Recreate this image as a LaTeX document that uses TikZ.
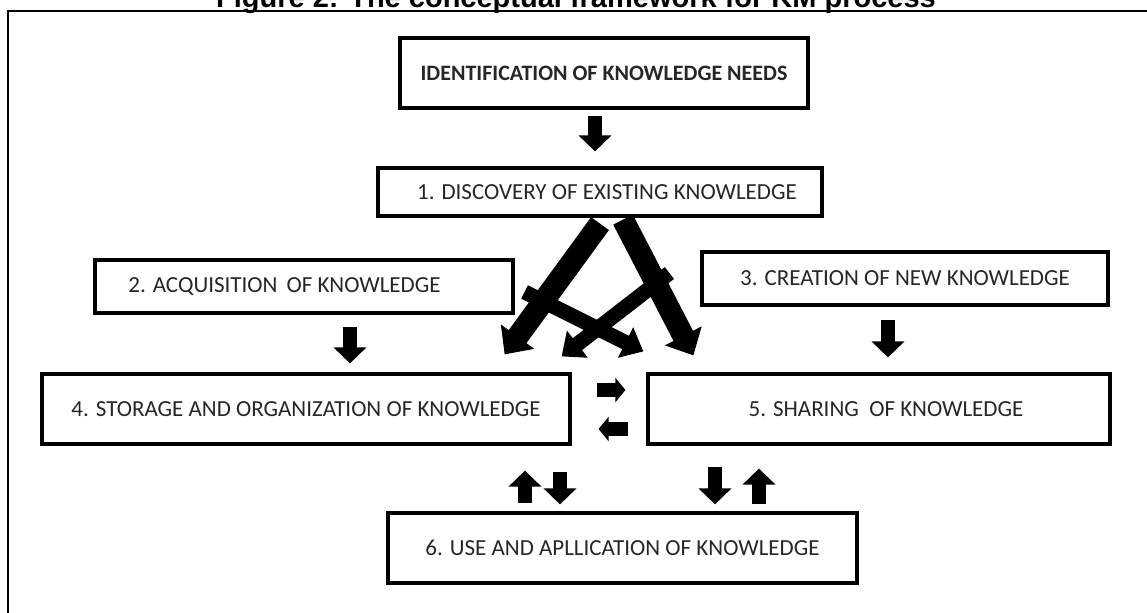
\documentclass[tikz,border=0pt]{standalone}
\usepackage{fontspec}
\setmainfont{Carlito}
\newfontfamily\titlefont{Liberation Sans}
\usetikzlibrary{arrows.meta}

\begin{document}
\begin{tikzpicture}[x=0.5pt,y=-0.5pt,
  km box/.style={draw,line width=1.6pt,inner sep=0pt,text=black!85,font=\fontsize{11.5pt}{14pt}\selectfont},
  fat arrow/.style={line width=7pt,-{Triangle[length=8pt,width=16pt]}},
  big arrow/.style={line width=11pt,-{Triangle[length=11pt,width=20pt]}},
  mid arrow/.style={line width=7.5pt,-{Triangle[length=10pt,width=16.5pt]}},
  small arrow/.style={line width=7pt,-{Triangle[length=5pt,width=12pt]}}]

  \useasboundingbox (0,0) rectangle (1147,612);
  \draw[line width=1pt] (8,640) |- (1170,11);
  \node[anchor=base,inner sep=0pt,font=\titlefont\bfseries\fontsize{14.5pt}{17pt}\selectfont] (title) at (576,7) {Figure 2: The conceptual framework for KM process};

  \node[km box,minimum width=204pt,minimum height=35pt,font=\fontsize{11pt}{13pt}\selectfont\bfseries] (need) at (604,73) {IDENTIFICATION OF KNOWLEDGE NEEDS};
  \node[km box,minimum width=222pt,minimum height=24pt] (disc) at (600,192) {\hspace{7pt}1. DISCOVERY OF EXISTING KNOWLEDGE};
  \node[km box,minimum width=209pt,minimum height=26.5pt] (acq) at (304,286.5) {2. ACQUISITION\,\ OF KNOWLEDGE\hspace{19.5pt}\mbox{}};
  \node[km box,minimum width=203pt,minimum height=26.5pt] (crea) at (905,278.5) {3. CREATION OF NEW KNOWLEDGE};
  \node[km box,minimum width=264pt,minimum height=35pt] (stor) at (306,409) {4. STORAGE AND ORGANIZATION OF KNOWLEDGE};
  \node[km box,minimum width=231pt,minimum height=35pt] (share) at (879,409) {\hspace{7pt}5. SHARING\ \ OF KNOWLEDGE};
  \node[km box,minimum width=234.5pt,minimum height=35pt] (use) at (622.5,548) {6. USE AND APLLICATION OF KNOWLEDGE};

  % straight arrows
  \draw[fat arrow] ([shift={(-9,6)}]need.south) -- ([shift={(-5,-15)}]disc.north);
  \draw[fat arrow] ([shift={(46,12)}]acq.south) -- ([shift={(44,-9)}]stor.north);
  \draw[fat arrow] ([shift={(-17,13)}]crea.south) -- ([shift={(9,-15)}]share.north);
  \draw[small arrow] ([shift={(25,-19)}]stor.east) -- ([shift={(-21,-19)}]share.west);
  \draw[small arrow] ([shift={(-18,20)}]share.west) -- ([shift={(27,20)}]stor.east);
  \draw[fat arrow] ([shift={(-97.5,-8)}]use.north) -- ([shift={(219,25)}]stor.south);
  \draw[fat arrow] ([shift={(254,26)}]stor.south) -- ([shift={(-62.5,-7)}]use.north);
  \draw[fat arrow] ([shift={(-164,21)}]share.south) -- ([shift={(92.5,-7)}]use.north);
  \draw[fat arrow] ([shift={(136.5,-7)}]use.north) -- ([shift={(-120,23)}]share.south);

  % crossing arrows
  \draw[big arrow] ([shift={(0,6)}]disc.south) -- ([shift={(-67,-18)}]stor.north east);
  \draw[big arrow] ([shift={(23,2)}]disc.south) -- ([shift={(47,-17)}]share.north west);
  \draw[mid arrow] ([shift={(10,5.5)}]acq.east) -- ([shift={(-3,-21)}]share.north west);
  \draw[mid arrow] ([shift={(-31,-5.5)}]crea.west) -- ([shift={(-10,-16)}]stor.north east);
\end{tikzpicture}
\end{document}
